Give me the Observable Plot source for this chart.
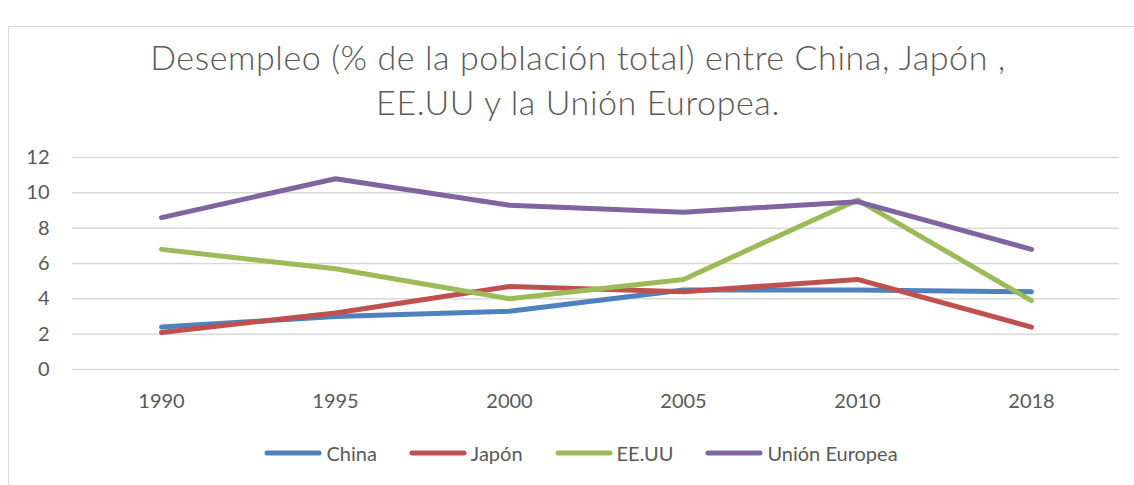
<!DOCTYPE html>
<html>
<head>
<meta charset="utf-8">
<script src="https://cdn.jsdelivr.net/npm/d3@7"></script>
<script src="https://cdn.jsdelivr.net/npm/@observablehq/plot@0.6"></script>
<style>
  html, body { margin: 0; padding: 0; background: #fff; }
  body { width: 1134px; height: 485px; position: relative; overflow: hidden;
         font-family: Lato, "Open Sans", sans-serif; color: #595959; }
  #frame { position: absolute; left: 8px; top: 26px; width: 1140px; height: 480px; border: 1px solid #d9d9d9; box-sizing: border-box; }
  #title { position: absolute; left: 0; top: 34px; width: 1156px; text-align: center; font-size: 34px; font-weight: 300; letter-spacing: 0.6px; line-height: 45px; color: #595959; }
  #chart { position: absolute; left: 0; top: 140px; }
  #legend { position: absolute; left: 0; top: 441px; width: 1162px; display: flex; justify-content: center; gap: 32px; font-size: 20px; }
  .item { display: flex; align-items: center; gap: 4px; }
</style>
</head>
<body>
<div id="frame"></div>
<div id="title">Desempleo (% de la población total) entre China, Japón ,<br>EE.UU y la Unión Europea.</div>
<div id="chart"></div>
<div id="legend"></div>
<script>
const years = ["1990", "1995", "2000", "2005", "2010", "2018"];
const seriesNames = ["China", "Japón", "EE.UU", "Unión Europea"];
const china = [2.4, 3.0, 3.3, 4.5, 4.5, 4.4];
const japon = [2.1, 3.2, 4.7, 4.4, 5.1, 2.4];
const eeuu = [6.8, 5.7, 4.0, 5.1, 9.6, 3.9];
const ue = [8.6, 10.8, 9.3, 8.9, 9.5, 6.8];
const colors = ["#4F81BD", "#C0504D", "#9BBB59", "#8064A2"];
const yTicks = [0, 2, 4, 6, 8, 10, 12];

const allSeries = [china, japon, eeuu, ue];
const data = [];
allSeries.forEach((vals, i) => vals.forEach((v, j) => data.push({serie: seriesNames[i], year: years[j], value: v})));

const chart = Plot.plot({
  width: 1134,
  height: 280,
  marginTop: 17,
  marginBottom: 51,
  marginLeft: 72,
  marginRight: 15,
  style: {fontFamily: 'Lato, "Open Sans", sans-serif', fontSize: "20px", color: "#595959", background: "transparent"},
  x: {type: "point", domain: years, padding: 0.5},
  y: {domain: [0, 12]},
  color: {domain: seriesNames, range: colors},
  marks: [
    Plot.gridY(yTicks, {stroke: "#d9d9d9", strokeOpacity: 1, strokeWidth: 1.5}),
    Plot.axisY(yTicks, {tickSize: 0, tickPadding: 23, label: null, fill: "#595959", fontSize: 20}),
    Plot.axisX({tickSize: 0, tickPadding: 24, label: null, fill: "#595959", fontSize: 20}),
    Plot.line(data, {x: "year", y: "value", z: "serie", stroke: "serie", strokeWidth: 5, strokeLinecap: "round", strokeLinejoin: "round"})
  ]
});
document.getElementById("chart").appendChild(chart);

const legend = document.getElementById("legend");
seriesNames.forEach((name, i) => {
  const item = document.createElement("div");
  item.className = "item";
  item.innerHTML = `<svg width="58" height="10"><line x1="3" y1="5" x2="55" y2="5" stroke="${colors[i]}" stroke-width="5" stroke-linecap="round"/></svg><span>${name}</span>`;
  legend.appendChild(item);
});
</script>
</body>
</html>
